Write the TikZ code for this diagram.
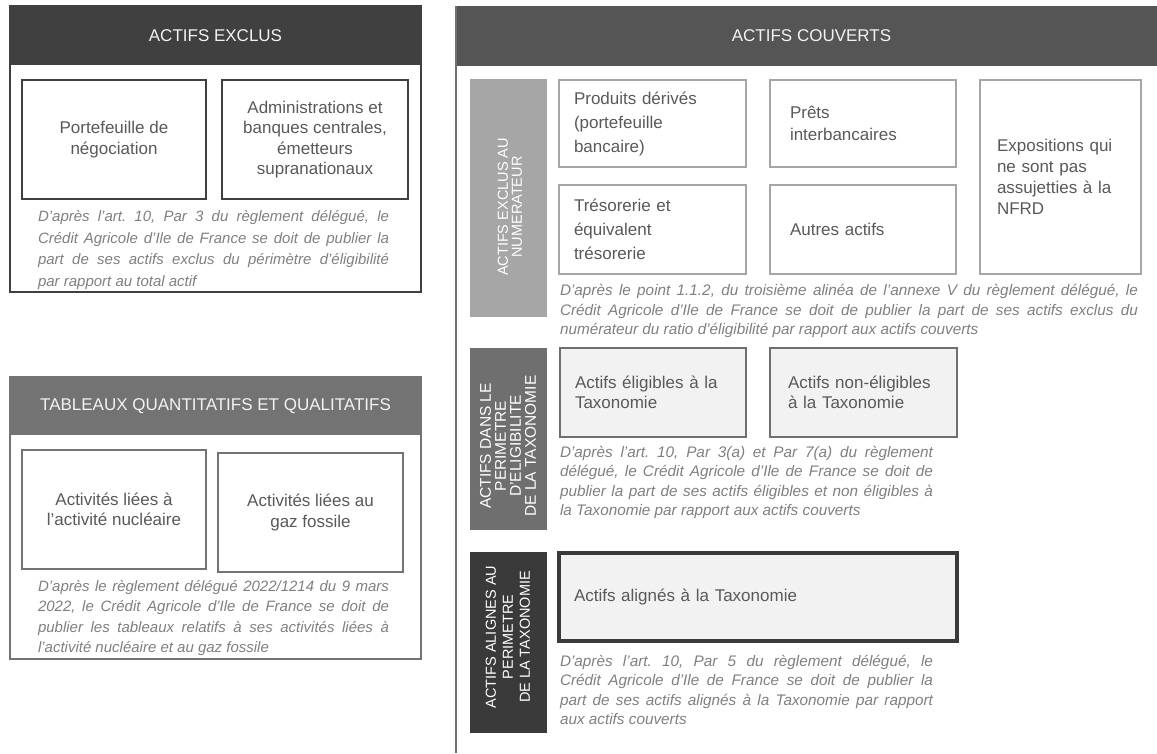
\documentclass[tikz,border=0pt]{standalone}
\usepackage{fontspec}
\setmainfont{Liberation Sans}
\definecolor{dk}{HTML}{404040}
\definecolor{md}{HTML}{737373}
\definecolor{rh}{HTML}{555555}
\definecolor{lg}{HTML}{A6A6A6}
\definecolor{sdeux}{HTML}{6F6F6F}
\definecolor{strois}{HTML}{3A3A3A}
\definecolor{fillg}{HTML}{F2F2F2}
\definecolor{btxt}{HTML}{595959}
\definecolor{ntxt}{HTML}{808080}
\definecolor{htxt}{HTML}{F2F2F2}
\definecolor{vline}{HTML}{707070}
\frenchspacing
\tikzset{
  hdrbox/.style={inner sep=0pt, text=htxt, font=\fontsize{17}{20}\selectfont},
  lbox/.style={inner sep=0pt, align=center, text=btxt, font=\fontsize{17}{20.5}\selectfont},
  rbox/.style={inner ysep=0pt, align=left, text=btxt, font=\fontsize{17}{22}\selectfont},
  notetxt/.style={inner sep=0pt, align=justify, text=ntxt, font=\itshape\fontsize{15}{21}\selectfont},
  rnotetxt/.style={inner sep=0pt, align=justify, text=ntxt, font=\itshape\fontsize{15.3}{19.3}\selectfont},
  vblock/.style={inner sep=0pt, minimum width=77pt},
  vtext/.style={rotate=90, inner sep=0pt, align=center, text=white}
}
\begin{document}
\begin{tikzpicture}[x=1pt,y=-1pt]
\useasboundingbox[fill=white] (0,0) rectangle (1157,753);

% ---------- Panel 1 : ACTIFS EXCLUS ----------
\node[hdrbox, fill=dk, minimum width=411pt, minimum height=59pt] (h1) at (215.5,35.5) {ACTIFS EXCLUS};
\draw[dk, line width=2.5pt] (10,6) rectangle (421,292);
\node[lbox, draw=dk, line width=2pt, minimum width=184pt, minimum height=119pt] (a1) at (114,139.5) {Portefeuille de\\négociation};
\node[lbox, draw=dk, line width=2pt, minimum width=186pt, minimum height=119pt] (a2) at (315,139.5) {Administrations et\\banques centrales,\\émetteurs\\supranationaux};
\node[notetxt, text width=351pt, font=\itshape\fontsize{15}{21.5}\selectfont] (n1) at (213.5,250) {D'après l'art. 10, Par 3 du règlement délégué, le\linebreak[4] Crédit Agricole d'Ile de France se doit de publier la\linebreak[4] part de ses actifs exclus du périmètre d'éligibilité\linebreak[4] par rapport au total actif};

% ---------- Panel 2 : TABLEAUX ----------
\node[hdrbox, fill=md, minimum width=411pt, minimum height=58pt] (h2) at (215.5,406) {TABLEAUX QUANTITATIFS ET QUALITATIFS};
\draw[md, line width=2.5pt] (10,377) rectangle (421,659);
\node[lbox, draw=md, line width=2pt, minimum width=184pt, minimum height=119pt] (b1) at (114,509.5) {Activités liées à\\l'activité nucléaire};
\node[lbox, draw=md, line width=2pt, minimum width=185pt, minimum height=119pt] (b2) at (310.5,512.5) {Activités liées au\\gaz fossile};
\node[notetxt, text width=351pt, font=\itshape\fontsize{15}{20.5}\selectfont] (n2) at (213.5,618) {D'après le règlement délégué 2022/1214 du 9 mars\linebreak[4] 2022, le Crédit Agricole d'Ile de France se doit de\linebreak[4] publier les tableaux relatifs à ses activités liées à\linebreak[4] l'activité nucléaire et au gaz fossile};

% ---------- Right panel : ACTIFS COUVERTS ----------
\node[hdrbox, fill=rh, minimum width=701pt, minimum height=60pt] (h3) at (806.5,36) {\hspace*{10pt}ACTIFS COUVERTS};
\coordinate (lt) at (456,6);
\coordinate (lb) at (456,753);
\draw[vline, line width=2.5pt] (lt) -- (lb);

% Section 1
\node[vblock, fill=lg, minimum height=238pt] (v1) at (508.5,198) {};
\node[vtext, font=\fontsize{14.5}{14}\selectfont] (v1t) at (510,207) {ACTIFS EXCLUS AU\\NUMERATEUR};
\node[rbox, draw=lg, line width=2pt, inner xsep=15pt, text width=157pt, minimum height=87pt, font=\fontsize{17}{24}\selectfont] (c1) at (652.5,123.5) {Produits dérivés\\(portefeuille\\bancaire)};
\node[rbox, draw=lg, line width=2pt, inner xsep=20pt, text width=146pt, minimum height=87pt] (c2) at (863,123.5) {Prêts\\interbancaires};
\node[rbox, draw=lg, line width=2pt, inner xsep=15pt, text width=157pt, minimum height=89pt, font=\fontsize{17}{24}\selectfont] (c3) at (652.5,229.5) {Trésorerie et\\équivalent\\trésorerie};
\node[rbox, draw=lg, line width=2pt, inner xsep=20pt, text width=146pt, minimum height=89pt] (c4) at (863,229.5) {Autres actifs};
\node[rbox, draw=lg, line width=2pt, inner xsep=17pt, text width=127pt, minimum height=194pt, font=\fontsize{17}{21}\selectfont] (c5) at (1060.5,177) {Expositions qui\\ne sont pas\\assujetties à la\\NFRD};
\node[rnotetxt, text width=578pt] (n3) at (849,311) {D'après le point 1.1.2, du troisième alinéa de l'annexe V du règlement délégué, le\linebreak[4] Crédit Agricole d'Ile de France se doit de publier la part de ses actifs exclus du\linebreak[4] numérateur du ratio d'éligibilité par rapport aux actifs couverts};

% Section 2
\node[vblock, fill=sdeux, minimum height=182pt] (v2) at (508.5,439) {};
\node[vtext, font=\fontsize{15.5}{15}\selectfont] (v2t) at (508,446) {ACTIFS DANS LE\\PERIMETRE\\D'ELIGIBILITE\\DE LA TAXONOMIE};
\node[rbox, draw=sdeux, fill=fillg, line width=2.7pt, inner xsep=15pt, text width=156pt, minimum height=89pt, font=\fontsize{17}{20}\selectfont] (d1) at (653,392.5) {Actifs éligibles à la\\Taxonomie};
\node[rbox, draw=sdeux, fill=fillg, line width=2.7pt, inner xsep=18pt, text width=151pt, minimum height=89pt, font=\fontsize{17}{20}\selectfont] (d2) at (863.5,392.5) {Actifs non-éligibles\\à la Taxonomie};
\node[rnotetxt, text width=373pt] (n4) at (746.5,482.5) {D'après l'art. 10, Par 3(a) et Par 7(a) du règlement\linebreak[4] délégué, le Crédit Agricole d'Ile de France se doit de\linebreak[4] publier la part de ses actifs éligibles et non éligibles à\linebreak[4] la Taxonomie par rapport aux actifs couverts};

% Section 3
\node[vblock, fill=strois, minimum height=181pt] (v3) at (508.5,642.5) {};
\node[vtext, font=\fontsize{14.5}{17}\selectfont] (v3t) at (508,637) {ACTIFS ALIGNES AU\\PERIMETRE\\DE LA TAXONOMIE};
\node[rbox, draw=strois, fill=fillg, line width=3.2pt, inner xsep=15pt, text width=368pt, minimum height=88pt] (e1) at (758,597) {Actifs alignés à la Taxonomie};
\node[rnotetxt, text width=373pt] (n5) at (746.5,690) {D'après l'art. 10, Par 5 du règlement délégué, le\linebreak[4] Crédit Agricole d'Ile de France se doit de publier la\linebreak[4] part de ses actifs alignés à la Taxonomie par rapport\linebreak[4] aux actifs couverts};
\end{tikzpicture}
\end{document}
